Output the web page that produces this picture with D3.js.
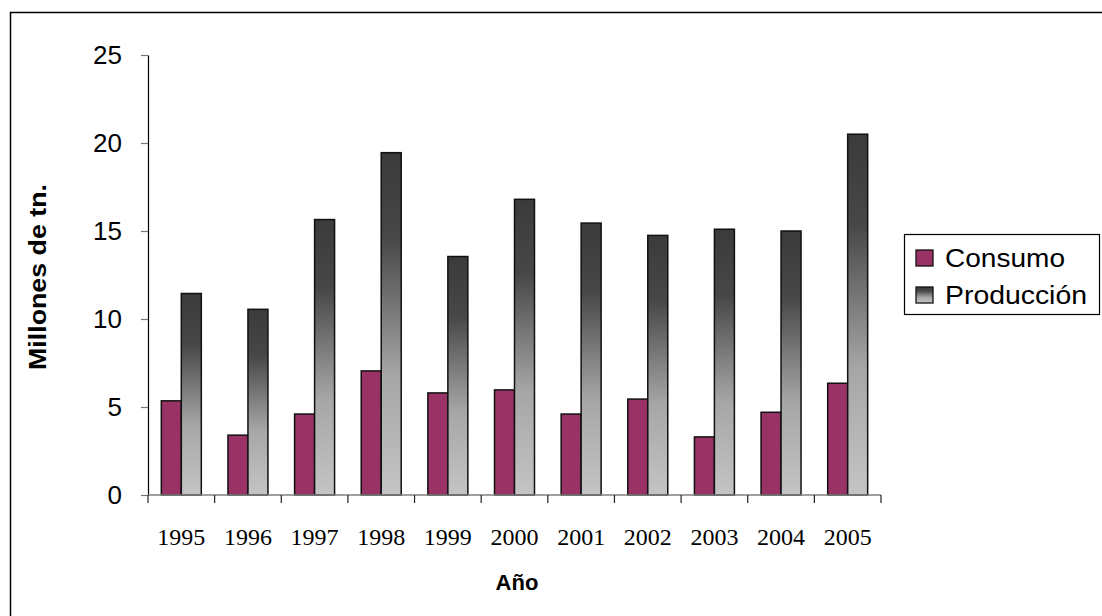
<!DOCTYPE html>
<html>
<head>
<meta charset="utf-8">
<script src="https://cdn.jsdelivr.net/npm/d3@7/dist/d3.min.js"></script>
<style>
  html, body { margin: 0; padding: 0; background: #fff; }
  svg { display: block; }
</style>
</head>
<body>
<svg id="chart" width="1102" height="616"></svg>
<script>
// Years on the category axis
const years = ["1995", "1996", "1997", "1998", "1999", "2000", "2001", "2002", "2003", "2004", "2005"];
// Series (millions of tonnes)
const consumo    = [5.35, 3.4, 4.6, 7.05, 5.8, 5.97, 4.6, 5.45, 3.3, 4.7, 6.35];
const produccion = [11.45, 10.55, 15.65, 19.45, 13.55, 16.8, 15.45, 14.75, 15.1, 15.0, 20.5];
const seriesNames = ["Consumo", "Producción"];
const yTicks = [0, 5, 10, 15, 20, 25];

const svg = d3.select("#chart");
const SANS = "Liberation Sans, Arial, sans-serif";

// Gradient for the production bars: dark at the top, light at the base
const defs = svg.append("defs");
const grad = defs.append("linearGradient")
  .attr("id", "gradProd")
  .attr("x1", 0).attr("y1", 0).attr("x2", 0).attr("y2", 1);
grad.append("stop").attr("offset", "0%").attr("stop-color", "#3b3b3b");
grad.append("stop").attr("offset", "25%").attr("stop-color", "#474747");
grad.append("stop").attr("offset", "65%").attr("stop-color", "#a6a6a6");
grad.append("stop").attr("offset", "100%").attr("stop-color", "#c4c4c4");

// Outer frame
svg.append("rect")
  .attr("x", 10.5).attr("y", 12.5)
  .attr("width", 1110).attr("height", 620)
  .attr("fill", "none").attr("stroke", "#000").attr("stroke-width", 1.5);

const plot = { left: 148, right: 881, top: 55, bottom: 495 };

const x0 = d3.scaleBand().domain(years).range([plot.left, plot.right]).padding(0);
const groupW = x0.bandwidth() * 0.6;
const x1 = d3.scaleBand().domain(seriesNames).range([0, groupW]).padding(0);
const y = d3.scaleLinear().domain([0, 25]).range([plot.bottom, plot.top]);

const colors = { "Consumo": "#993366", "Producción": "url(#gradProd)" };

// Bars
const groups = svg.append("g").selectAll("g")
  .data(years.map((yr, i) => ({ yr, vals: [
    { key: "Consumo", v: consumo[i] },
    { key: "Producción", v: produccion[i] }
  ] })))
  .join("g")
  .attr("transform", d => `translate(${x0(d.yr) + (x0.bandwidth() - groupW) / 2},0)`);

groups.selectAll("rect")
  .data(d => d.vals)
  .join("rect")
  .attr("x", d => x1(d.key))
  .attr("y", d => y(d.v))
  .attr("width", x1.bandwidth())
  .attr("height", d => y(0) - y(d.v))
  .attr("fill", d => colors[d.key])
  .attr("stroke", "#111")
  .attr("stroke-width", 1.5);

// Y axis
const yAxis = svg.append("g")
  .attr("transform", `translate(${plot.left},0)`)
  .call(d3.axisLeft(y).tickValues(yTicks).tickSize(7).tickPadding(19).tickSizeOuter(0));
yAxis.select(".domain").attr("stroke", "#000").attr("stroke-width", 1.2);
yAxis.selectAll(".tick line").attr("stroke", "#777").attr("stroke-width", 1.2);
yAxis.selectAll(".tick text")
  .attr("font-family", SANS)
  .attr("font-size", 26).attr("fill", "#000");

// X axis: line plus ticks on band boundaries
const xAxisG = svg.append("g");
xAxisG.append("line")
  .attr("x1", plot.left).attr("x2", plot.right)
  .attr("y1", plot.bottom).attr("y2", plot.bottom)
  .attr("stroke", "#808080").attr("stroke-width", 1.5);
const bounds = years.map(yr => x0(yr)).concat([plot.right]);
xAxisG.selectAll("line.tk")
  .data(bounds)
  .join("line")
  .attr("class", "tk")
  .attr("x1", d => d).attr("x2", d => d)
  .attr("y1", plot.bottom).attr("y2", plot.bottom + 8)
  .attr("stroke", "#222").attr("stroke-width", 1.2);
xAxisG.selectAll("text")
  .data(years)
  .join("text")
  .attr("x", d => x0(d) + x0.bandwidth() / 2)
  .attr("y", 545)
  .attr("text-anchor", "middle")
  .attr("font-family", "Liberation Serif, Times New Roman, serif")
  .attr("font-size", 24)
  .text(d => d);

// Axis titles
svg.append("text")
  .attr("x", 517).attr("y", 590)
  .attr("text-anchor", "middle")
  .attr("font-family", SANS)
  .attr("font-weight", "bold").attr("font-size", 22)
  .text("Año");

svg.append("text")
  .attr("transform", `translate(46,${(plot.top + plot.bottom) / 2 + 2}) rotate(-90)`)
  .attr("text-anchor", "middle")
  .attr("font-family", SANS)
  .attr("font-weight", "bold").attr("font-size", 23)
  .attr("textLength", 186).attr("lengthAdjust", "spacingAndGlyphs")
  .text("Millones de tn.");

// Legend
const legend = svg.append("g");
legend.append("rect")
  .attr("x", 904.5).attr("y", 234.5).attr("width", 195).attr("height", 80)
  .attr("fill", "#fff").attr("stroke", "#000").attr("stroke-width", 1.2);
const legendTextLen = { "Consumo": 120, "Producción": 142 };
const items = legend.selectAll("g.item")
  .data(seriesNames)
  .join("g")
  .attr("class", "item")
  .attr("transform", (d, i) => `translate(916,${258 + i * 37})`);
items.append("rect")
  .attr("x", 0).attr("y", -8).attr("width", 17).attr("height", 16)
  .attr("fill", d => colors[d]).attr("stroke", "#111").attr("stroke-width", 1.3);
items.append("text")
  .attr("x", 29).attr("y", 9)
  .attr("font-family", SANS)
  .attr("font-size", 25)
  .attr("textLength", d => legendTextLen[d]).attr("lengthAdjust", "spacingAndGlyphs")
  .text(d => d);
</script>
</body>
</html>
